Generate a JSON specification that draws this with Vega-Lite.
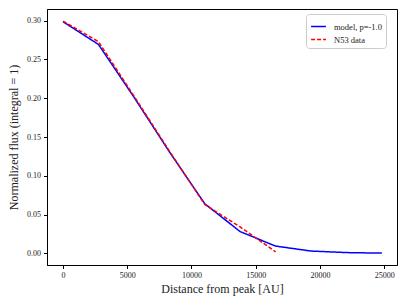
{
  "$schema": "https://vega.github.io/schema/vega-lite/v6.json",
  "width": 350,
  "height": 256,
  "autosize": {"type": "none"},
  "padding": {"left": 47, "top": 9, "right": 10, "bottom": 40},
  "background": "white",
  "config": {
    "view": {"stroke": "black", "strokeWidth": 1},
    "font": "Liberation Serif",
    "axis": {"grid": false, "domainColor": "black", "tickColor": "black", "labelColor": "#222", "titleColor": "#222", "labelFont": "Liberation Serif", "titleFont": "Liberation Serif", "labelFontSize": 8, "titleFontSize": 12, "titleFontWeight": "normal", "tickSize": 3.5}
  },
  "data": {
    "values": [
      {"d": 0, "f": 0.2986, "s": "model, p=-1.0"},
      {"d": 2758, "f": 0.2693, "s": "model, p=-1.0"},
      {"d": 5516, "f": 0.2015, "s": "model, p=-1.0"},
      {"d": 8274, "f": 0.1310, "s": "model, p=-1.0"},
      {"d": 11032, "f": 0.0640, "s": "model, p=-1.0"},
      {"d": 13790, "f": 0.0280, "s": "model, p=-1.0"},
      {"d": 16548, "f": 0.0094, "s": "model, p=-1.0"},
      {"d": 19306, "f": 0.0030, "s": "model, p=-1.0"},
      {"d": 22064, "f": 0.0010, "s": "model, p=-1.0"},
      {"d": 24822, "f": 0.0003, "s": "model, p=-1.0"},
      {"d": 0, "f": 0.2994, "s": "N53 data"},
      {"d": 2758, "f": 0.2728, "s": "N53 data"},
      {"d": 5516, "f": 0.2030, "s": "N53 data"},
      {"d": 8274, "f": 0.1320, "s": "N53 data"},
      {"d": 11032, "f": 0.0630, "s": "N53 data"},
      {"d": 13790, "f": 0.0340, "s": "N53 data"},
      {"d": 16548, "f": 0.0020, "s": "N53 data"}
    ]
  },
  "mark": {"type": "line", "strokeWidth": 1.5, "clip": true},
  "encoding": {
    "x": {"field": "d", "type": "quantitative", "title": "Distance from peak [AU]",
      "scale": {"domain": [-1250, 26000], "nice": false, "zero": false},
      "axis": {"values": [0, 5000, 10000, 15000, 20000, 25000], "format": "d", "titlePadding": 4, "labelPadding": 3}},
    "y": {"field": "f", "type": "quantitative", "title": "Normalized flux (integral = 1)",
      "scale": {"domain": [-0.015, 0.315], "nice": false, "zero": false},
      "axis": {"values": [0, 0.05, 0.1, 0.15, 0.2, 0.25, 0.3], "format": ".2f", "titlePadding": 6, "labelPadding": 3}},
    "color": {"field": "s", "type": "nominal",
      "scale": {"domain": ["model, p=-1.0", "N53 data"], "range": ["#0000ff", "#ff0000"]},
      "legend": {"title": null, "orient": "none", "legendX": 259, "legendY": 5, "symbolType": "stroke", "symbolSize": 220, "symbolStrokeWidth": 1.5, "labelFontSize": 8.5, "labelColor": "#222", "labelFont": "Liberation Serif", "fillColor": "white", "strokeColor": "#cccccc", "cornerRadius": 3, "padding": 4, "rowPadding": 0, "labelOffset": 7}},
    "strokeDash": {"field": "s", "type": "nominal",
      "scale": {"domain": ["model, p=-1.0", "N53 data"], "range": [[1, 0], [4, 2]]},
      "legend": null}
  }
}
